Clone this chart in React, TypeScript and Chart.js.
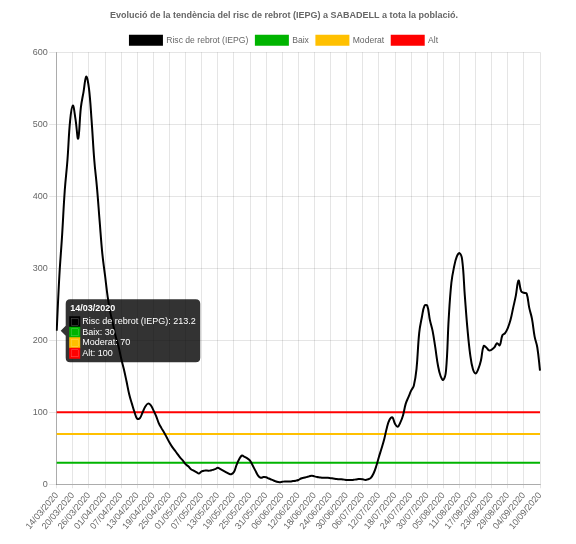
import React, { useEffect, useRef } from "react";
import { Chart, registerables } from "chart.js";

Chart.register(...registerables);

// ---- data ----
const startDate = { year: 2020, month: 3, day: 14 };
const dayCount = 181;
const tickEvery = 6;

function buildDates(): string[] {
  const out: string[] = [];
  const base = Date.UTC(startDate.year, startDate.month - 1, startDate.day);
  for (let i = 0; i < dayCount; i++) {
    const d = new Date(base + i * 86400000);
    const dd = String(d.getUTCDate()).padStart(2, "0");
    const mm = String(d.getUTCMonth() + 1).padStart(2, "0");
    out.push(`${dd}/${mm}/${d.getUTCFullYear()}`);
  }
  return out;
}
const dates = buildDates();

const riskValues = [
  213.2, 290, 345, 408, 450, 505, 526, 507, 480, 523,
  545, 566, 550, 505, 450, 412, 365, 320, 290, 260,
  238, 222, 205, 192, 175, 160, 143, 125, 112, 100,
  91, 92, 100, 108, 112, 110, 103, 95, 85, 78,
  72, 65, 58, 52, 47, 42, 37, 33, 28, 25,
  21, 19, 17, 15, 18, 19, 19, 19, 20, 21,
  23, 21, 19, 17, 15, 14, 17, 27, 35, 40,
  38, 36, 33, 26, 19, 12, 9, 10, 9.7, 8,
  6.5, 5, 3.5, 3, 3.5, 4, 4, 4, 4.5, 5,
  6, 8, 9, 10, 11, 12, 11, 10, 9.5, 9,
  9, 9, 8.5, 8, 7.5, 7, 7, 6.5, 6, 6,
  6, 6.5, 7, 7.5, 7, 6, 7, 9, 15, 25,
  38, 50, 63, 79, 90, 93, 84, 80, 86, 96,
  112, 121, 130, 137, 160, 210, 232, 248, 248, 228,
  213, 190, 165, 150, 145, 158, 230, 280, 302, 316,
  321, 312, 262, 215, 180, 160, 154, 160, 172, 192,
  190, 186, 187, 190, 196, 193, 207, 210, 217, 228,
  245, 262, 283, 268, 266, 265, 245, 230, 205, 190,
  158,
];

const baixLevel = 30;
const moderatLevel = 70;
const altLevel = 100;

const seriesNames = ["Risc de rebrot (IEPG)", "Baix", "Moderat", "Alt"];
const seriesColors = ["#000000", "rgb(0,180,0)", "rgb(255,192,0)", "rgb(255,0,0)"];

const yMin = 0;
const yMax = 600;
const yStep = 100;

const titleText =
  "Evolució de la tendència del risc de rebrot (IEPG) a SABADELL a tota la població.";

const FONT = "'Liberation Sans', Arial, Helvetica, sans-serif";

// trims the legend block's bottom spacing so the plot starts closer to it
const legendTrim = {
  id: "legendTrim",
  beforeUpdate(chart: any) {
    const lg = chart.legend;
    if (lg && !lg.__trimmed) {
      const orig = lg.fit;
      lg.fit = function (this: any) {
        orig.call(this);
        this.height -= 2.6;
      };
      lg.__trimmed = true;
    }
  },
};

export default function App() {
  const canvasRef = useRef<HTMLCanvasElement | null>(null);

  useEffect(() => {
    if (!canvasRef.current) return;
    const levels = [null, baixLevel, moderatLevel, altLevel];
    const datasets = seriesNames.map((name, i) => ({
      label: name,
      data: i === 0 ? riskValues : dates.map(() => levels[i] as number),
      borderColor: seriesColors[i],
      backgroundColor: seriesColors[i],
      borderWidth: 2,
      pointRadius: 0,
      pointHoverRadius: 0,
      pointHitRadius: 0,
      tension: i === 0 ? 0.4 : 0,
      fill: false,
    }));

    const chart = new Chart(canvasRef.current, {
      type: "line",
      data: { labels: dates, datasets },
      plugins: [legendTrim],
      options: {
        animation: false,
        responsive: true,
        maintainAspectRatio: false,
        events: [],
        layout: { padding: 0 },
        interaction: { mode: "index", intersect: false },
        plugins: {
          title: {
            display: true,
            text: titleText,
            color: "#666",
            font: { family: FONT, size: 9, weight: "bold", lineHeight: 1.2 },
            padding: { top: 2.5, bottom: 7 },
          },
          legend: {
            labels: {
              boxWidth: 32,
              boxHeight: 9,
              padding: 7.5,
              color: "#666",
              font: { family: FONT, size: 8.6 },
            },
          },
          tooltip: {
            position: "nearest",
            backgroundColor: "rgba(0,0,0,0.8)",
            titleFont: { family: FONT, size: 9, weight: "bold", lineHeight: 1 },
            bodyFont: { family: FONT, size: 9, lineHeight: 1 },
            titleColor: "#fff",
            bodyColor: "#fff",
            padding: 4.5,
            titleMarginBottom: 4.5,
            bodySpacing: 1.5,
            caretSize: 5,
            caretPadding: 4,
            cornerRadius: 4.5,
            boxWidth: 9,
            boxHeight: 9,
            boxPadding: 1,
          },
        },
        scales: {
          x: {
            afterFit: (s: any) => {
              s.height = 59.7;
              s.paddingRight = 20;
            },
            grid: { color: "rgba(0,0,0,0.1)", tickLength: 4 },
            border: { color: "rgba(0,0,0,0.25)" },
            ticks: {
              autoSkip: false,
              maxRotation: 50,
              minRotation: 50,
              padding: 2,
              color: "#666",
              font: { family: FONT, size: 9 },
              callback: (_v: any, i: number) => (i % tickEvery === 0 ? dates[i] : null),
            },
          },
          y: {
            min: yMin,
            max: yMax,
            afterFit: (s: any) => {
              s.width = 48.7;
            },
            grid: { color: "rgba(0,0,0,0.1)", tickLength: 7.5 },
            border: { color: "rgba(0,0,0,0.25)" },
            ticks: {
              stepSize: yStep,
              padding: 1.5,
              color: "#666",
              font: { family: FONT, size: 9 },
            },
          },
        },
      },
    });

    const pt = chart.getDatasetMeta(0).data[0];
    const active = datasets.map((_, i) => ({ datasetIndex: i, index: 0 }));
    chart.setActiveElements(active);
    chart.tooltip?.setActiveElements(active, { x: pt.x, y: pt.y });
    chart.update();

    return () => chart.destroy();
  }, []);

  return (
    <div style={{ width: 552, height: 536, position: "relative" }}>
      <canvas ref={canvasRef} />
    </div>
  );
}
